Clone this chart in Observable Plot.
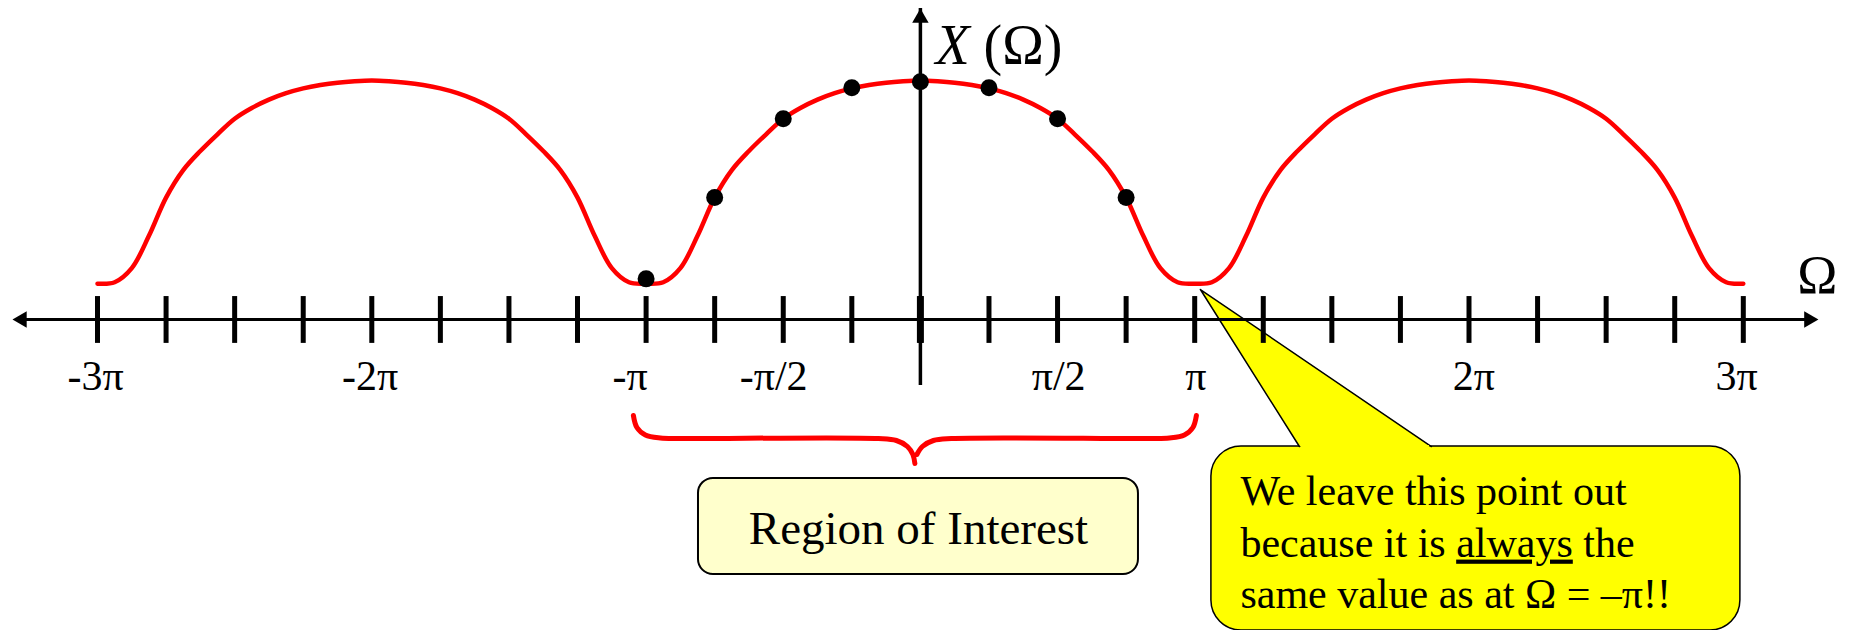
<!DOCTYPE html>
<html>
<head>
<meta charset="utf-8">
<script src="https://cdn.jsdelivr.net/npm/d3@7"></script>
<script src="https://cdn.jsdelivr.net/npm/@observablehq/plot@0.6"></script>
<style>
  html, body { margin: 0; padding: 0; background: #fff; }
  #chart svg { display: block; }
</style>
</head>
<body>
<div id="chart"></div>
<script>
// ---- data (x in units of π) ----
const tickPos = [-3,-2.75,-2.5,-2.25,-2,-1.75,-1.5,-1.25,-1,-0.75,-0.5,-0.25,0,0.25,0.5,0.75,1,1.25,1.5,1.75,2,2.25,2.5,2.75,3];
const labelPos = [-3,-2,-1,-0.5,0.5,1,2,3];
const labelText = ["-3π","-2π","-π","-π/2","π/2","π","2π","3π"];
const labelNudge = [-0.007,-0.006,-0.058,-0.035,0.004,0.004,0.018,-0.024];

const sampleX = [-1,-0.9375,-0.875,-0.8125,-0.75,-0.6875,-0.625,-0.5625,-0.5,-0.4375,-0.375,-0.3125,-0.25,-0.1875,-0.125,-0.0625,0,
                 0.0625,0.125,0.1875,0.25,0.3125,0.375,0.4375,0.5,0.5625,0.625,0.6875,0.75,0.8125,0.875,0.9375,1];
const sampleV = [0.15,0.156,0.215,0.35,0.51,0.625,0.705,0.775,0.84,0.885,0.92,0.947,0.967,0.981,0.991,0.997,1.0,
                 0.997,0.991,0.981,0.967,0.947,0.92,0.885,0.84,0.775,0.705,0.625,0.51,0.35,0.215,0.156,0.15];
const periodShifts = [-2, 0, 2];

// the 8 samples
const dotX = [-1,-0.75,-0.5,-0.25,0,0.25,0.5,0.75];
const dotV = [0.17,0.51,0.84,0.97,0.995,0.97,0.84,0.51];

// annotation geometry (data units)
const xAxisEnds = [-3.31, 3.274];
const yAxisEnds = [-0.234, 1.301];
const tickBand = [-0.1, 0.096];
const labelY = -0.297;

const braceX = [-1.0463,-1.0335,-1.0026,-0.9479,-0.875,-0.1531,-0.0875,-0.0474,-0.0273,-0.0201,
                -0.0128,0.0073,0.0474,0.113,0.8349,0.9078,0.9625,0.9934,1.0062];
const braceV = [-0.4017,-0.4519,-0.4833,-0.4958,-0.4979,-0.4979,-0.5063,-0.5314,-0.5649,-0.6025,
                -0.5649,-0.5314,-0.5063,-0.4979,-0.4979,-0.4958,-0.4833,-0.4519,-0.4017];
const braceSide = [0,0,0,0,0,0,0,0,0,0, 1,1,1,1,1,1,1,1,1];

const regionBox = {x1: -0.809, x2: 0.795, y1: -0.665, y2: -1.067};
const regionLabel = {x: -0.007, y: -0.941, text: "Region of Interest"};

const calloutBox = {x1: 1.0609, x2: 2.9894, y1: -0.5314, y2: -1.3013};
const pointerX = [1.3817, 1.0208, 1.8629];
const pointerV = [-0.5314, 0.1255, -0.5314];
const calloutLines = ["We leave this point out", "because it is always the", "same value as at Ω = –π!!"];
const calloutLineY = [-0.778, -0.992, -1.209];
const calloutX = 1.1666;

// ---- build tables ----
const curve = [];
periodShifts.forEach((s, k) => {
  sampleX.forEach((t, i) => {
    if (k > 0 && i === 0) return;
    curve.push({t: t + s, v: sampleV[i]});
  });
});
const dots = dotX.map((t, i) => ({t, v: dotV[i]}));
const ticks = tickPos.map(t => ({t}));
const labels = labelPos.map((t, i) => ({t: t + labelNudge[i], text: labelText[i]}));
const brace = braceX.map((t, i) => ({t, v: braceV[i], side: braceSide[i]}));
const pointer = pointerX.map((t, i) => ({t, v: pointerV[i]}));
const callText = calloutLines.map((text, i) => ({t: calloutX, v: calloutLineY[i], text}));

const serif = "'Liberation Serif', 'Times New Roman', serif";

const chart = Plot.plot({
  width: 1852,
  height: 630,
  margin: 0,
  x: {domain: [-3, 3], range: [97, 1742.8], axis: null},
  y: {domain: [0, 1], range: [319, 80], axis: null},
  style: {background: "white", fontFamily: serif, overflow: "visible"},
  marks: [
    // yellow callout
    Plot.rect([calloutBox], {x1: "x1", x2: "x2", y1: "y1", y2: "y2", fill: "#ffff00", stroke: "black", strokeWidth: 1.5, rx: 30, ry: 30}),
    Plot.line(pointer, {x: "t", y: "v", fill: "#ffff00", stroke: "black", strokeWidth: 1.5, curve: "linear"}),
    Plot.ruleY([{y: pointerV[0], x1: pointerX[0], x2: pointerX[2]}], {y: "y", x1: "x1", x2: "x2", stroke: "#ffff00", strokeWidth: 3, insetLeft: 2, insetRight: 2}),
    Plot.text(callText, {x: "t", y: "v", text: "text", textAnchor: "start", lineAnchor: "bottom", fontSize: 42, fontFamily: serif, fill: "black"}),

    // region of interest
    Plot.line(brace, {x: "t", y: "v", z: "side", stroke: "#ff0000", strokeWidth: 5, curve: "catmull-rom", strokeLinecap: "round"}),
    Plot.rect([regionBox], {x1: "x1", x2: "x2", y1: "y1", y2: "y2", fill: "#ffffcc", stroke: "black", strokeWidth: 2, rx: 15, ry: 15}),
    Plot.text([regionLabel], {x: "x", y: "y", text: "text", textAnchor: "middle", lineAnchor: "bottom", fontSize: 47, fontFamily: serif, fill: "black"}),

    // axes
    Plot.ruleY([{y: 0, x1: xAxisEnds[0], x2: xAxisEnds[1]}], {y: "y", x1: "x1", x2: "x2", stroke: "black", strokeWidth: 3, insetLeft: 10, insetRight: 10}),
    Plot.dot([{t: xAxisEnds[1], v: 0}], {x: "t", y: "v", symbol: "triangle", r: 6.1, fill: "black", stroke: "none", rotate: 90, dx: -9.5}),
    Plot.dot([{t: xAxisEnds[0], v: 0}], {x: "t", y: "v", symbol: "triangle", r: 6.1, fill: "black", stroke: "none", rotate: -90, dx: 9.5}),
    Plot.ruleX([{x: 0, y1: yAxisEnds[0], y2: yAxisEnds[1]}], {x: "x", y1: "y1", y2: "y2", stroke: "black", strokeWidth: 3.5, insetTop: 10}),
    Plot.dot([{t: 0, v: yAxisEnds[1]}], {x: "t", y: "v", symbol: "triangle", r: 6.1, fill: "black", stroke: "none", dy: 9.5}),
    Plot.ruleX(ticks, {x: "t", y1: tickBand[0], y2: tickBand[1], stroke: "black", strokeWidth: 5}),
    Plot.ruleX([{t: 0}], {x: "t", y1: tickBand[0], y2: tickBand[1], stroke: "black", strokeWidth: 7}),
    Plot.text(labels, {x: "t", y: labelY, text: "text", textAnchor: "middle", lineAnchor: "bottom", fontSize: 42, fontFamily: serif, fill: "black"}),

    // axis titles
    Plot.text([{t: 0.055, v: 1.071}], {x: "t", y: "v", text: () => "X", textAnchor: "start", lineAnchor: "bottom", fontSize: 56, fontStyle: "italic", fontFamily: serif, fill: "black"}),
    Plot.text([{t: 0.23, v: 1.071}], {x: "t", y: "v", text: () => "(Ω)", textAnchor: "start", lineAnchor: "bottom", fontSize: 56, fontFamily: serif, fill: "black"}),
    Plot.text([{t: 3.27, v: 0.109}], {x: "t", y: "v", text: () => "Ω", textAnchor: "middle", lineAnchor: "bottom", fontSize: 54, fontFamily: serif, fill: "black"}),

    // the spectrum and its samples
    Plot.line(curve, {x: "t", y: "v", stroke: "#ff0000", strokeWidth: 4.5, curve: "catmull-rom"}),
    Plot.dot(dots, {x: "t", y: "v", r: 8.5, fill: "black", stroke: "none"})
  ]
});

document.getElementById("chart").appendChild(chart);

// underline "always"
d3.select(chart).selectAll("text").filter(function() { return this.textContent === calloutLines[1]; })
  .each(function() {
    const el = d3.select(this);
    el.text(null);
    el.append("tspan").text("because it is ");
    el.append("tspan").style("text-decoration", "underline").text("always");
    el.append("tspan").text(" the");
  });
</script>
</body>
</html>
